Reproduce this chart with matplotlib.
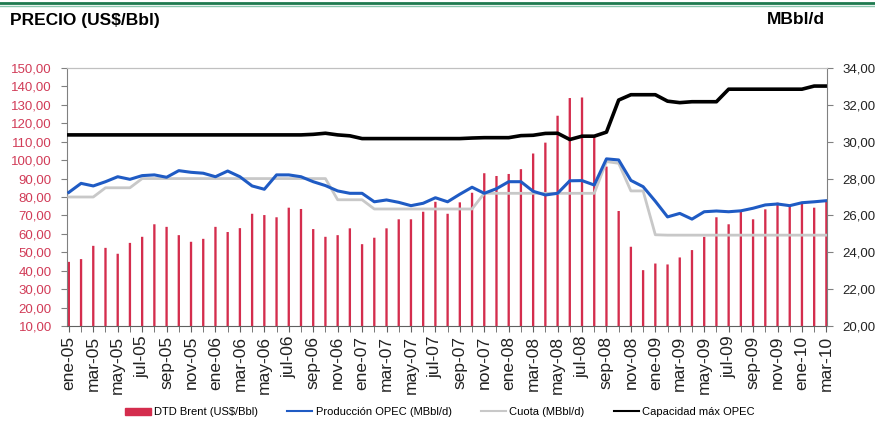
import numpy as np
import matplotlib
matplotlib.use('Agg')
from matplotlib import pyplot as plt
from matplotlib.lines import Line2D
from matplotlib.patches import Patch

plt.rcParams['font.family'] = ['Liberation Sans', 'DejaVu Sans']

meses = ['ene', 'feb', 'mar', 'abr', 'may', 'jun',
         'jul', 'ago', 'sep', 'oct', 'nov', 'dic']
labels = [f'{m}-{a % 100:02d}' for a in range(2005, 2011) for m in meses][:63]

# DTD Brent (US$/Bbl), ene-05 .. mar-10
brent = [44.8, 46.3, 53.5, 52.4, 49.2, 55.1, 58.4, 65.2, 63.8, 59.3, 55.7, 57.3,
         63.8, 61.0, 63.1, 70.9, 70.2, 69.0, 74.2, 73.5, 62.6, 58.4, 59.3, 63.0,
         54.4, 57.9, 63.0, 67.9, 67.9, 72.0, 77.4, 70.9, 77.1, 82.3, 92.9, 91.4,
         92.5, 95.1, 103.6, 109.5, 124.1, 133.7, 134.0, 112.8, 96.5, 72.4, 53.0, 40.3,
         43.9, 43.4, 47.2, 51.2, 58.4, 69.0, 65.2, 72.9, 67.9, 73.3, 76.9, 75.3,
         76.9, 74.2, 77.4]

# Producción OPEC (MBbl/d)
produccion = [27.25, 27.74, 27.60, 27.83, 28.10, 27.96, 28.16, 28.20, 28.07, 28.43, 28.34, 28.29,
              28.10, 28.41, 28.10, 27.60, 27.42, 28.20, 28.20, 28.10, 27.83, 27.62, 27.33, 27.20,
              27.20, 26.74, 26.84, 26.71, 26.53, 26.66, 26.96, 26.74, 27.15, 27.53, 27.20, 27.45,
              27.83, 27.83, 27.31, 27.11, 27.20, 27.88, 27.89, 27.65, 29.07, 29.01, 27.90, 27.56,
              26.77, 25.92, 26.11, 25.80, 26.20, 26.24, 26.20, 26.25, 26.39, 26.57, 26.62, 26.53,
              26.69, 26.74, 26.80]

# Cuota (MBbl/d)
cuota = [27.0, 27.0, 27.0, 27.5, 27.5, 27.5, 28.0, 28.0, 28.0, 28.0, 28.0, 28.0,
         28.0, 28.0, 28.0, 28.0, 28.0, 28.0, 28.0, 28.0, 28.0, 28.0, 26.85, 26.85,
         26.85, 26.35, 26.35, 26.35, 26.35, 26.35, 26.35, 26.35, 26.35, 26.35, 27.2, 27.2,
         27.2, 27.2, 27.2, 27.2, 27.2, 27.2, 27.2, 27.2, 28.92, 28.83, 27.33, 27.33,
         24.95, 24.93, 24.93, 24.93, 24.93, 24.93, 24.93, 24.93, 24.93, 24.93, 24.93, 24.93,
         24.93, 24.93, 24.93]

# Capacidad máx OPEC (MBbl/d)
capacidad = [30.37, 30.37, 30.37, 30.37, 30.37, 30.37, 30.37, 30.37, 30.37, 30.37, 30.37, 30.37,
             30.37, 30.37, 30.37, 30.37, 30.37, 30.37, 30.37, 30.37, 30.40, 30.46, 30.37, 30.32,
             30.17, 30.17, 30.17, 30.17, 30.17, 30.17, 30.17, 30.17, 30.17, 30.20, 30.22, 30.22,
             30.22, 30.33, 30.35, 30.45, 30.46, 30.12, 30.30, 30.30, 30.52, 32.26, 32.55, 32.55,
             32.55, 32.20, 32.12, 32.17, 32.17, 32.17, 32.85, 32.85, 32.85, 32.85, 32.85, 32.85,
             32.85, 33.02, 33.02]

rojo = '#d42d4d'
azul = '#1f5bc4'
gris = '#c8c8c8'

fig = plt.figure(figsize=(8.75, 4.21), dpi=100)
ax = fig.add_axes([67/875, 1-326/421, 760/875, 258/421])
ax2 = ax.twinx()

x = np.arange(len(labels))
bars = ax.bar(x, brent, width=0.19, color=rojo, linewidth=0, zorder=2)
for b in bars:
    b.set_snap(False)
ax2.plot(x, cuota, color=gris, lw=2)
ax2.plot(x, produccion, color=azul, lw=2.2)
ax2.plot(x, capacidad, color='black', lw=2.6)

ax.set_xlim(-0.15, 62.05)
ax.set_ylim(10, 150)
ax2.set_ylim(20, 34)

yt = np.arange(10, 151, 10)
ax.set_yticks(yt)
ax.set_yticklabels([f'{v:.2f}'.replace('.', ',') for v in yt],
                   color='#d13b57', fontsize=9.5)
yt2 = np.arange(20, 35, 2)
ax2.set_yticks(yt2)
ax2.set_yticklabels([f'{v:.2f}'.replace('.', ',') for v in yt2],
                    color='#222222', fontsize=9.5)

ax.set_xticks(x[::2])
ax.set_xticklabels(labels[::2], rotation=90, fontsize=12.5, color='#222222')
ax.set_xticks(x, minor=True)

ax.tick_params(axis='y', length=4, pad=7, color='#808080')
ax2.tick_params(axis='y', length=4, pad=7, color='#808080')
ax.tick_params(axis='x', which='both', length=4, pad=3, color='#606060')

for a in (ax, ax2):
    a.spines['top'].set_color('#c0c0c0')
ax.spines['right'].set_visible(False)
ax.spines['left'].set_color('#808080')
ax.spines['bottom'].set_color('#606060')
ax2.spines['left'].set_visible(False)
ax2.spines['bottom'].set_visible(False)
ax2.spines['right'].set_color('#808080')

fig.text(10/875, 1-20/421, 'PRECIO (US$/Bbl)', fontsize=12.5,
         fontweight='bold', va='center', ha='left')
fig.text(825/875, 1-20/421, 'MBbl/d', fontsize=12.5,
         fontweight='bold', va='center', ha='right')

fig.add_artist(Line2D([0, 1], [1-3/421, 1-3/421], color='#1e7a4f', lw=2,
                      transform=fig.transFigure))
fig.add_artist(Line2D([0, 1], [1-5.5/421, 1-5.5/421], color='#8cc7b0', lw=1,
                      transform=fig.transFigure))

handles = [Patch(color=rojo),
           Line2D([], [], color=azul, lw=1.5),
           Line2D([], [], color=gris, lw=1.5),
           Line2D([], [], color='black', lw=1.5)]
names = ['DTD Brent (US$/Bbl)', 'Producción OPEC (MBbl/d)',
         'Cuota (MBbl/d)', 'Capacidad máx OPEC']
fig.legend(handles, names, loc='center', bbox_to_anchor=(440/875, 1-412/421),
           ncol=4, frameon=False, fontsize=8, handlelength=2.3,
           handleheight=0.6, columnspacing=2.6, handletextpad=0.3)

fig.savefig('out.png', dpi=100)
